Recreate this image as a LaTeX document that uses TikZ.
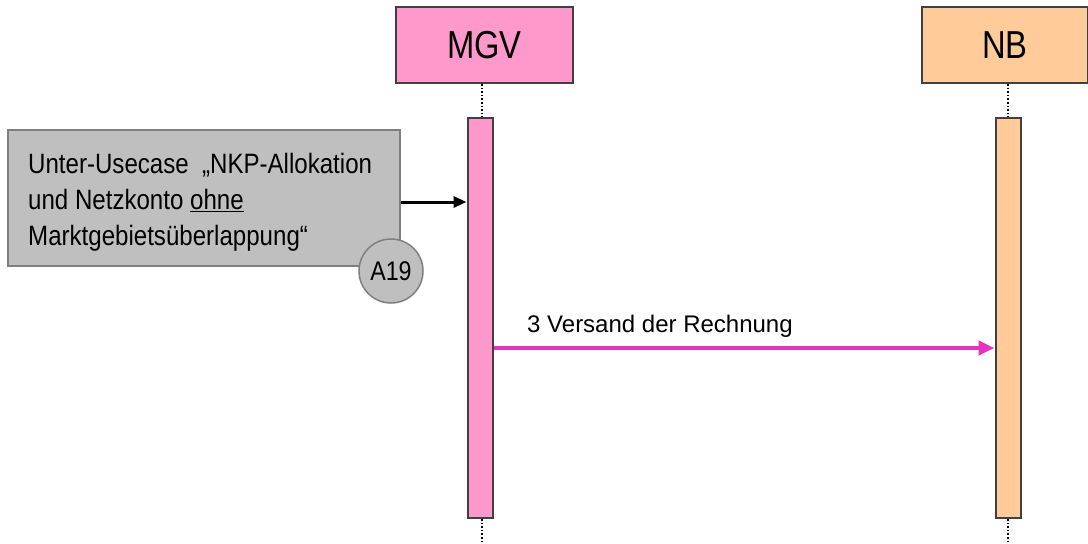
\documentclass[tikz,border=0pt]{standalone}
\usepackage{fontspec}
\usetikzlibrary{arrows.meta}
\newfontfamily\hdrfont[FakeStretch=0.84]{Liberation Sans}
\newfontfamily\bodyfont[FakeStretch=0.86]{Liberation Sans}
\newfontfamily\msgfont{Liberation Sans}
\definecolor{mgvpink}{HTML}{FF99CC}
\definecolor{nborange}{HTML}{FFCC99}
\definecolor{boxgray}{HTML}{BFBFBF}
\definecolor{boxedge}{HTML}{7F7F7F}
\definecolor{darkedge}{HTML}{404040}
\definecolor{msgmag}{HTML}{E535C0}
\tikzset{
  header/.style={draw=darkedge, line width=2pt, minimum height=76pt, inner sep=0pt, font=\hdrfont\fontsize{39}{42}\selectfont},
  actbar/.style={draw=darkedge, line width=2pt, minimum width=25pt, minimum height=400pt, inner sep=0pt},
  lifeline/.style={dotted, line width=1.6pt, black},
  usecase/.style={draw=boxedge, line width=1.5pt, fill=boxgray, minimum width=392pt, minimum height=136pt, inner sep=0pt},
  refcircle/.style={circle, draw=boxedge, line width=1.5pt, fill=boxgray, minimum size=64pt, inner sep=0pt, font=\bodyfont\fontsize{27}{32}\selectfont},
  callarrow/.style={line width=3pt, black, -{Triangle[length=13pt,width=11pt]}},
  msgarrow/.style={line width=4pt, msgmag, -{Triangle[length=16pt,width=14pt]}}
}
\begin{document}
\begin{tikzpicture}[x=1pt,y=-1pt]
\useasboundingbox (0,0) rectangle (1088,544);
% headers
\node[header, fill=mgvpink, minimum width=177pt] (mgv) at (484.5,45) {MGV};
\node[header, fill=nborange, minimum width=166pt] (nb) at (1005,45) {NB};
% activation bars
\node[actbar, fill=mgvpink] (mgvbar) at (480,318) {};
\node[actbar, fill=nborange] (nbbar) at (1008,318) {};
\coordinate (mgvend) at (482,544);
\coordinate (nbend) at (1008,544);
\draw[lifeline] (mgv.south -| mgvbar.north) ++(2,0) coordinate (mgvtop) -- (mgvtop |- mgvbar.north);
\draw[lifeline] (nb.south -| nbbar.north) -- (nbbar.north);
\draw[lifeline] (mgvbar.south) ++(2,0) coordinate (mgvbot) -- (mgvend);
\draw[lifeline] (nbbar.south) -- (nbend);
% use case box
\node[usecase] (uc) at (204,198) {};
\node[anchor=north west, inner sep=0pt, align=left, font=\bodyfont\fontsize{28}{36}\selectfont] (uctext) at (28,153)
  {Unter-Usecase \ „NKP-Allokation\\und Netzkonto \underline{ohne}\\Marktgebietsüberlappung“};
\node[refcircle] (a19) at (391,271) {A19};
% call arrow
\coordinate (callstart) at (uc.east |- 0,202);
\draw[callarrow] (callstart) -- (callstart -| mgvbar.west);
% message
\coordinate (msgstart) at (mgvbar.east |- 0,348);
\draw[msgarrow] (msgstart) -- (msgstart -| nbbar.west);
\node[anchor=base west, inner sep=0pt, font=\msgfont\fontsize{24}{28}\selectfont] (msglabel) at (527,332) {3 Versand der Rechnung};
\end{tikzpicture}
\end{document}
